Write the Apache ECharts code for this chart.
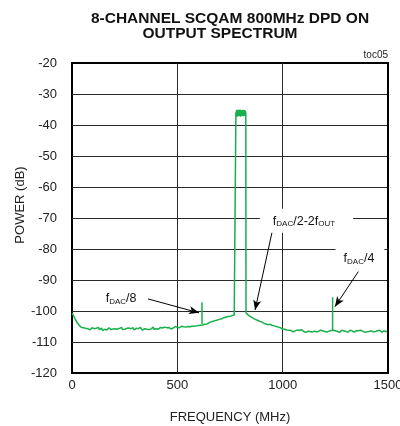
<!DOCTYPE html>
<html>
<head>
<meta charset="utf-8">
<script src="https://cdn.jsdelivr.net/npm/echarts@6/dist/echarts.min.js"></script>
<style>
  html, body { margin: 0; padding: 0; background: #fff; }
  #chart { width: 400px; height: 426px; }
</style>
</head>
<body>
<div id="chart"></div>
<script>
// Sweep grid of the spectrum analyser trace (MHz)
const sweepStepMHz = 5;
const lowBandStartMHz = 0;      // floor below the carrier block
const highBandStartMHz = 830;   // floor above the carrier block

// Noise floor 0 .. 775 MHz (dB)
const lowBandDb = [
  -100.7,-101.3,-101.9,-102.6,-103.1,-103.8,-104.2,-104.7,-105.0,-105.3,
  -105.6,-105.4,-105.9,-105.6,-106.0,-105.7,-105.5,-106.1,-105.8,-105.4,
  -105.9,-105.7,-106.2,-105.6,-105.8,-105.3,-106.0,-105.9,-105.5,-106.3,
  -105.7,-105.9,-105.6,-106.1,-105.8,-105.4,-105.9,-106.0,-105.6,-105.8,
  -106.2,-105.7,-105.5,-105.9,-106.1,-105.6,-105.8,-105.3,-106.0,-105.7,
  -105.9,-106.3,-105.6,-105.8,-105.5,-106.0,-105.7,-105.9,-105.4,-106.1,
  -105.8,-105.6,-106.0,-105.7,-105.9,-105.3,-105.8,-106.2,-105.6,-105.7,
  -105.5,-105.9,-105.6,-106.0,-105.4,-105.8,-105.7,-105.2,-105.9,-105.6,
  -105.7,-105.4,-105.9,-105.6,-105.3,-105.8,-105.5,-105.7,-105.2,-105.6,
  -105.4,-105.7,-105.3,-105.5,-105.8,-105.2,-105.5,-105.4,-105.0,-105.5,
  -105.3,-105.0,-105.4,-105.2,-104.9,-105.3,-105.1,-104.8,-105.2,-104.9,
  -105.0,-104.7,-105.1,-104.8,-104.9,-104.6,-104.9,-104.5,-104.8,-104.6,
  -104.7,-104.4,-104.6,-104.3,-104.5,-104.1,-104.3,-104.0,-104.2,-103.9,
  -103.8,-103.9,-103.5,-103.6,-103.3,-103.4,-103.1,-103.2,-102.9,-102.9,
  -102.7,-102.8,-102.5,-102.5,-102.2,-102.3,-102.0,-102.1,-101.8,-101.9,
  -101.7,-101.7,-101.5,-101.5,-101.3,-101.2
];

// Noise floor 830 .. 1500 MHz (dB)
const highBandDb = [
  -100.9,-101.2,-101.5,-101.7,-101.9,-102.0,-102.3,-102.4,-102.7,-102.8,
  -103.0,-103.2,-103.3,-103.5,-103.5,-103.8,-103.9,-104.0,-104.2,-104.1,
  -104.4,-104.5,-104.3,-104.7,-104.6,-104.9,-104.8,-105.1,-105.0,-105.3,
  -105.2,-105.6,-105.4,-105.8,-105.9,-106.2,-105.9,-106.4,-106.1,-106.5,
  -106.2,-106.6,-106.3,-106.0,-106.7,-106.2,-106.4,-106.8,-106.1,-106.5,
  -106.3,-106.7,-106.0,-106.4,-106.6,-106.2,-106.9,-106.3,-106.5,-106.1,
  -106.6,-106.4,-106.8,-106.2,-106.5,-106.0,-106.7,-106.3,-106.6,-106.4,
  -106.2,-106.7,-106.4,-106.1,-106.6,-106.3,-106.8,-106.2,-106.5,-106.4,
  -106.3,-106.6,-106.2,-106.7,-106.4,-106.1,-106.6,-106.3,-106.9,-106.5,
  -106.2,-106.7,-106.4,-106.0,-106.6,-106.3,-106.8,-106.5,-106.2,-106.7,
  -106.4,-106.1,-106.8,-106.5,-106.3,-106.9,-106.4,-106.6,-106.2,-106.7,
  -106.5,-106.3,-106.9,-106.4,-106.7,-106.2,-106.6,-106.8,-106.4,-106.5,
  -106.7,-106.3,-106.6,-106.9,-106.4,-106.7,-106.2,-106.6,-106.8,-106.5,
  -106.4,-106.7,-106.6,-106.3,-106.5
];

// 8-channel SCQAM block: edges (MHz), skirt level at the edges (dB), 1 MHz top samples (dB)
const channelEdgesMHz = [778, 826];
const channelSkirtDb = [-101.1, -100.6];
const channelTopStepMHz = 1;
const channelTopDb = [
  -35.8,-37.0,-35.2,-36.9,-35.5,-37.3,-35.1,-36.8,-35.6,-37.1,
  -35.3,-36.7,-35.4,-37.2,-35.0,-36.9,-35.7,-37.0,-35.2,-36.8,
  -35.5,-37.3,-35.1,-36.6,-35.4,-37.1,-35.6,-36.9,-35.2,-37.0,
  -35.3,-36.8,-35.5,-37.2,-35.1,-36.7,-35.4,-37.0,-35.6,-36.9,
  -35.2,-37.1,-35.3,-36.8,-35.5,-37.0,-35.9
];

// Clock spurs: frequency (MHz), floor level (dB), peak (dB)
const spurNames = ['fDAC/8', 'fDAC/4'];
const spurFreqMHz = [617, 1237];
const spurFloorDb = [-104.3, -106.4];
const spurPeakDb = [-97.2, -95.6];

// Axis ticks
const freqTicksMHz = [0, 500, 1000, 1500];
const powerTicksDb = [-120, -110, -100, -90, -80, -70, -60, -50, -40, -30, -20];

const green = '#17b04b';

// Assemble the trace
const trace = [];
lowBandDb.forEach((p, i) => trace.push([lowBandStartMHz + i * sweepStepMHz, p]));
trace.push([channelEdgesMHz[0], channelSkirtDb[0]]);
trace.push([channelEdgesMHz[0], channelTopDb[0]]);
channelTopDb.forEach((p, i) => trace.push([channelEdgesMHz[0] + 1 + i * channelTopStepMHz, p]));
trace.push([channelEdgesMHz[1], channelTopDb[channelTopDb.length - 1]]);
trace.push([channelEdgesMHz[1], channelSkirtDb[1]]);
highBandDb.forEach((p, i) => trace.push([highBandStartMHz + i * sweepStepMHz, p]));

const spurSeries = spurFreqMHz.map((f, i) => ({
  type: 'line',
  name: spurNames[i],
  data: [[f, spurFloorDb[i]], [f, spurPeakDb[i]]],
  showSymbol: false,
  silent: true,
  lineStyle: { color: green, width: 1.5 },
  z: 3
}));

// Rich text for the annotation labels (subscripts)
const baseFont = 'Liberation Sans, Arial, sans-serif';
const rich = {
  m: { fontFamily: baseFont, fontSize: 12.5, color: '#111', lineHeight: 15 },
  s: { fontFamily: baseFont, fontSize: 8, color: '#111', lineHeight: 15, padding: [6, 0, 0, 0] }
};

const annotations = [
  { text: '{m|f}{s|DAC}{m|/8}', at: [233, -96.0], pad: [0, 0, 0, 0], bg: 'transparent' },
  { text: '{m|f}{s|DAC}{m|/2-2f}{s|OUT}', at: [1113, -70.9], pad: [5, 18, 4, 13], bg: '#fff' },
  { text: '{m|f}{s|DAC}{m|/4}', at: [1367, -82.9], pad: [5, 10, 3, 8], bg: '#fff' }
];
const arrows = [
  [[361, -96.1], [603, -100.6]],
  [[954, -73.2], [869, -99.7]],
  [[1359, -87.3], [1248, -98.6]]
];

const yRange = { min: powerTicksDb[0], max: powerTicksDb[powerTicksDb.length - 1], interval: 10 };

const chart = echarts.init(document.getElementById('chart'), null, { renderer: 'canvas' });
chart.setOption({
  animation: false,
  backgroundColor: '#fff',
  title: [
    { text: '8-CHANNEL SCQAM 800MHz DPD ON', left: 230, top: 11, textAlign: 'center', padding: 0,
      textStyle: { fontFamily: baseFont, fontWeight: 'bold', fontSize: 15.5, color: '#111' } },
    { text: 'OUTPUT SPECTRUM', left: 220, top: 26, textAlign: 'center', padding: 0,
      textStyle: { fontFamily: baseFont, fontWeight: 'bold', fontSize: 15.5, color: '#111' } },
    { text: 'toc05', right: 12, top: 50, padding: 0,
      textStyle: { fontFamily: baseFont, fontWeight: 'normal', fontSize: 10, color: '#222' } }
  ],
  grid: {
    left: 72, right: 12, top: 63, bottom: 53,
    containLabel: false, outerBoundsMode: 'none',
    show: true, borderColor: '#000', borderWidth: 2, backgroundColor: 'transparent'
  },
  xAxis: {
    type: 'value', min: freqTicksMHz[0], max: freqTicksMHz[freqTicksMHz.length - 1], interval: 500,
    name: 'FREQUENCY (MHz)', nameLocation: 'middle', nameGap: 38,
    nameTextStyle: { fontFamily: baseFont, fontSize: 13, color: '#222' },
    axisLine: { show: false }, axisTick: { show: false },
    axisLabel: { margin: 6, fontFamily: baseFont, fontSize: 13, color: '#222', formatter: v => String(v) },
    splitLine: { show: true, showMinLine: false, showMaxLine: false, lineStyle: { color: '#2a2a2a', width: 1 } }
  },
  yAxis: [
    {
      type: 'value', ...yRange,
      axisLine: { show: false }, axisTick: { show: false },
      axisLabel: { margin: 15, fontFamily: baseFont, fontSize: 13, color: '#222', formatter: v => String(v) },
      splitLine: { show: true, showMinLine: false, showMaxLine: false, lineStyle: { color: '#2a2a2a', width: 1 } }
    },
    {
      // right frame edge, kept above the label boxes
      type: 'value', ...yRange, position: 'right', z: 10,
      axisLine: { show: true, onZero: false, lineStyle: { color: '#000', width: 2 } },
      axisTick: { show: false }, axisLabel: { show: false }, splitLine: { show: false }
    }
  ],
  graphic: [
    { type: 'text', x: 20, y: 205, rotation: Math.PI / 2,
      style: { text: 'POWER (dB)', font: '13px Liberation Sans, Arial, sans-serif', fill: '#222', textAlign: 'center', textVerticalAlign: 'middle' } }
  ],
  series: [
    {
      type: 'line',
      name: 'Output spectrum',
      data: trace,
      showSymbol: false,
      silent: true,
      lineStyle: { color: green, width: 1.5 },
      z: 3,
      markLine: {
        silent: true,
        symbol: ['none', 'arrow'],
        symbolSize: [6, 10],
        label: { show: false },
        lineStyle: { color: '#000', width: 1, type: 'solid' },
        data: arrows.map(a => [{ coord: a[0] }, { coord: a[1] }])
      },
      markPoint: {
        silent: true,
        symbol: 'circle',
        symbolSize: 0,
        data: annotations.map(a => ({
          coord: a.at,
          label: {
            show: true, position: 'inside', formatter: a.text, rich: rich,
            backgroundColor: a.bg, padding: a.pad
          }
        }))
      }
    },
    ...spurSeries
  ]
});
</script>
</body>
</html>
